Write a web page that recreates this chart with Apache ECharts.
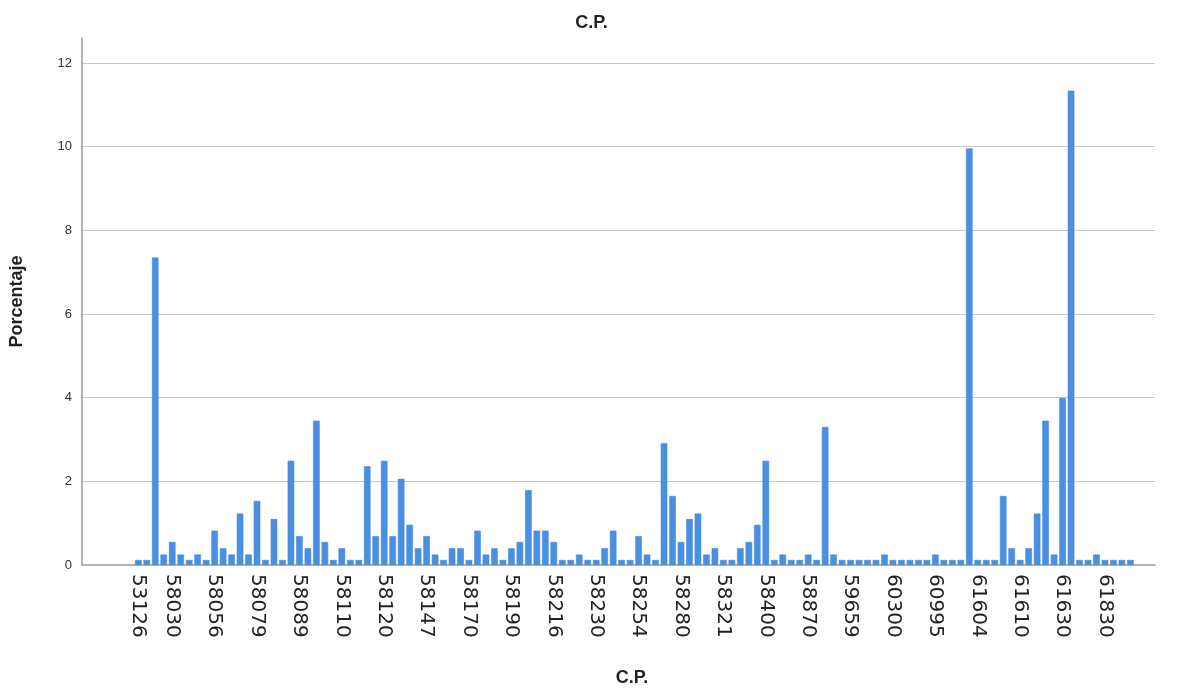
<!DOCTYPE html>
<html>
<head>
<meta charset="utf-8">
<script src="https://cdn.jsdelivr.net/npm/echarts@6/dist/echarts.min.js"></script>
<style>html,body{margin:0;padding:0;background:#fff;}#c{width:1183px;height:692px;}</style>
</head>
<body>
<div id="c"></div>
<script>
// Percentage of cases for each postal code bar, left to right (118 bars)
const percentages = [
  0.12, 0.12, 7.35, 0.25, 0.55, 0.25, 0.12, 0.25, 0.12, 0.82,
  0.40, 0.25, 1.23, 0.25, 1.53, 0.12, 1.10, 0.12, 2.49, 0.69,
  0.40, 3.45, 0.55, 0.12, 0.40, 0.12, 0.12, 2.36, 0.69, 2.49,
  0.69, 2.06, 0.96, 0.40, 0.69, 0.25, 0.12, 0.40, 0.40, 0.12,
  0.82, 0.25, 0.40, 0.12, 0.40, 0.55, 1.79, 0.82, 0.82, 0.55,
  0.12, 0.12, 0.25, 0.12, 0.12, 0.40, 0.82, 0.12, 0.12, 0.69,
  0.25, 0.12, 2.91, 1.65, 0.55, 1.10, 1.23, 0.25, 0.40, 0.12,
  0.12, 0.40, 0.55, 0.96, 2.49, 0.12, 0.25, 0.12, 0.12, 0.25,
  0.12, 3.30, 0.25, 0.12, 0.12, 0.12, 0.12, 0.12, 0.25, 0.12,
  0.12, 0.12, 0.12, 0.12, 0.25, 0.12, 0.12, 0.12, 9.96, 0.12,
  0.12, 0.12, 1.65, 0.40, 0.12, 0.40, 1.23, 3.45, 0.25, 3.99,
  11.34, 0.12, 0.12, 0.25, 0.12, 0.12, 0.12, 0.12
];
// Bar positions that carry a visible label, and those labels
const tickIndex = [0, 4, 9, 14, 19, 24, 29, 34, 39, 44, 49, 54, 59, 64, 69, 74, 79, 84, 89, 94, 99, 104, 109, 114];
const tickLabels = ['53126','58030','58056','58079','58089','58110','58120','58147','58170','58190','58216','58230',
  '58254','58280','58321','58400','58870','59659','60300','60995','61604','61610','61630','61830'];
const yTicks = [0, 2, 4, 6, 8, 10, 12];

const labelMap = {};
tickIndex.forEach((v, i) => { labelMap[v] = tickLabels[i]; });

const chart = echarts.init(document.getElementById('c'), null, {renderer: 'canvas'});
chart.setOption({
  animation: false,
  backgroundColor: '#ffffff',
  title: {
    text: 'C.P.',
    left: 'center',
    top: 9,
    textStyle: {fontFamily: 'Liberation Sans', fontWeight: 'bold', fontSize: 18, color: '#222'}
  },
  grid: {left: 82, right: 28, top: 38, bottom: 127, containLabel: false},
  xAxis: {
    type: 'value',
    min: -6.64,
    max: 119.9,
    name: 'C.P.',
    nameLocation: 'middle',
    nameGap: 104,
    nameTextStyle: {fontFamily: 'Liberation Sans', fontWeight: 'bold', fontSize: 18, color: '#222', padding: [0, 0, 0, 27]},
    axisLine: {show: true, onZero: false, lineStyle: {color: '#9a9a9a', width: 1.5}},
    axisTick: {show: false},
    splitLine: {show: false},
    axisLabel: {
      customValues: tickIndex,
      rotate: -90,
      margin: 9,
      fontFamily: 'DejaVu Sans',
      fontSize: 20,
      color: '#222',
      formatter: v => labelMap[v] || ''
    }
  },
  yAxis: {
    type: 'value',
    min: 0,
    max: 12.6,
    interval: 2,
    name: 'Porcentaje',
    nameLocation: 'middle',
    nameGap: 56,
    nameRotate: 90,
    nameTextStyle: {fontFamily: 'Liberation Sans', fontWeight: 'bold', fontSize: 18, color: '#222'},
    axisLine: {show: true, onZero: false, lineStyle: {color: '#9a9a9a', width: 1.5}},
    axisTick: {show: false},
    splitLine: {show: true, showMinLine: false, showMaxLine: false, lineStyle: {color: '#c8c8c8', width: 1.2}},
    axisLabel: {
      customValues: yTicks,
      margin: 10,
      fontFamily: 'Liberation Sans',
      fontSize: 13,
      color: '#333',
      formatter: v => String(v)
    }
  },
  series: [{
    type: 'bar',
    barWidth: 6.5,
    data: percentages.map((v, i) => [i, v]),
    itemStyle: {color: '#4a90e2', borderColor: '#3b7fd4', borderWidth: 0.5}
  }]
});
</script>
</body>
</html>
